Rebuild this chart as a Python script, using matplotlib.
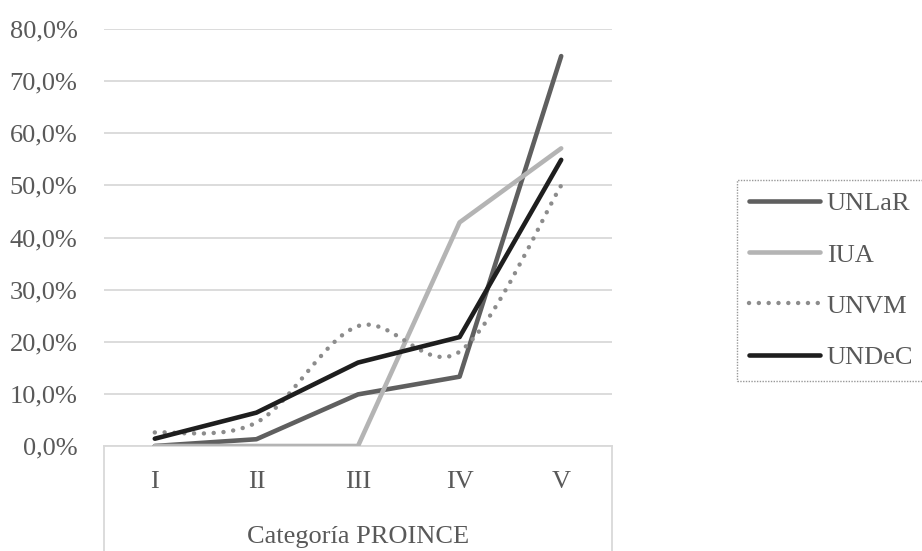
import numpy as np
import matplotlib
matplotlib.use("Agg")
import matplotlib.pyplot as plt
from matplotlib.path import Path
from matplotlib.patches import PathPatch
from matplotlib.lines import Line2D
from matplotlib.ticker import FuncFormatter

# datos (proporcion por categoria)
categorias = ["I", "II", "III", "IV", "V"]
unlar = [0.0, 0.013, 0.099, 0.133, 0.748]
iua = [0.0, 0.0, 0.0, 0.429, 0.571]
unvm = [0.026, 0.045, 0.230, 0.181, 0.500]
undec = [0.014, 0.064, 0.160, 0.209, 0.549]

plt.rcParams['font.family'] = ['Liberation Serif', 'DejaVu Serif']
txt = '#595959'
grid = '#d9d9d9'
fs = 19

fig = plt.figure(figsize=(9.22, 5.51), dpi=100)
ax = fig.add_axes([104/922, 1-446/551, 508/922, 417/551])

x = np.arange(len(categorias))

ax.plot(x, unlar, color='#5f5f5f', lw=3.3, solid_capstyle='round', zorder=3)
ax.plot(x, iua, color='#b4b4b4', lw=3.3, solid_capstyle='round', zorder=3)


# linea suavizada estilo Excel para UNVM
def smooth_path(xs, ys):
    pts = np.column_stack([xs, ys])
    verts = [pts[0]]
    codes = [Path.MOVETO]
    n = len(pts)
    for i in range(n - 1):
        p0 = pts[max(i - 1, 0)]
        p1 = pts[i]
        p2 = pts[i + 1]
        p3 = pts[min(i + 2, n - 1)]
        c1 = p1 + (p2 - p0) / 6
        c2 = p2 - (p3 - p1) / 6
        verts += [c1, c2, p2]
        codes += [Path.CURVE4] * 3
    return Path(verts, codes)


patch = PathPatch(smooth_path(x, unvm), fill=False, edgecolor='#8c8c8c', lw=3.2,
                  linestyle=(0, (0.01, 2.2)), capstyle='round', zorder=3)
ax.add_patch(patch)

ax.plot(x, undec, color='#1e1e1e', lw=3.3, solid_capstyle='round', zorder=4)

ax.set_xlim(-0.5, 4.5)
ax.set_ylim(0, 0.8)
ax.set_yticks(np.arange(0, 0.81, 0.1))
ax.yaxis.set_major_formatter(FuncFormatter(lambda v, p: f"{v*100:.1f}%".replace('.', ',')))
ax.set_xticks(x)
ax.set_xticklabels(categorias)
ax.tick_params(axis='both', length=0, labelsize=fs, labelcolor=txt)
ax.tick_params(axis='y', pad=19)
ax.tick_params(axis='x', pad=18)
ax.grid(axis='y', color=grid, lw=1.3)
ax.set_axisbelow(True)
for s in ['top', 'right', 'left']:
    ax.spines[s].set_visible(False)
ax.spines['bottom'].set_color(grid)
ax.spines['bottom'].set_linewidth(1.3)

# recuadro bajo el eje
for xv in [0, 1]:
    ax.plot([xv, xv], [0, -0.3], transform=ax.transAxes, color=grid, lw=1.3, clip_on=False)

ax.text(0.5, -(537-446)/417, "Categoría PROINCE", transform=ax.transAxes,
        ha='center', va='center', fontsize=fs, color=txt)

handles = [
    Line2D([], [], color='#5f5f5f', lw=3.3, solid_capstyle='round'),
    Line2D([], [], color='#b4b4b4', lw=3.3, solid_capstyle='round'),
    Line2D([], [], color='#8c8c8c', lw=3.2, linestyle=(0, (0.01, 2.2)), dash_capstyle='round'),
    Line2D([], [], color='#1e1e1e', lw=3.3, solid_capstyle='round'),
]
leg = fig.legend(handles, ["UNLaR", "IUA", "UNVM", "UNDeC"], loc='upper left',
                 bbox_to_anchor=(737/922, 1-180/551), fontsize=fs, labelcolor=txt,
                 handlelength=2.7, handletextpad=0.25, labelspacing=1.05,
                 borderpad=0.45, borderaxespad=0, fancybox=False)
leg.get_frame().set_edgecolor('#7f7f7f')
leg.get_frame().set_linestyle((0, (1, 1)))
leg.get_frame().set_linewidth(1.0)

fig.savefig("out.png", dpi=100)
